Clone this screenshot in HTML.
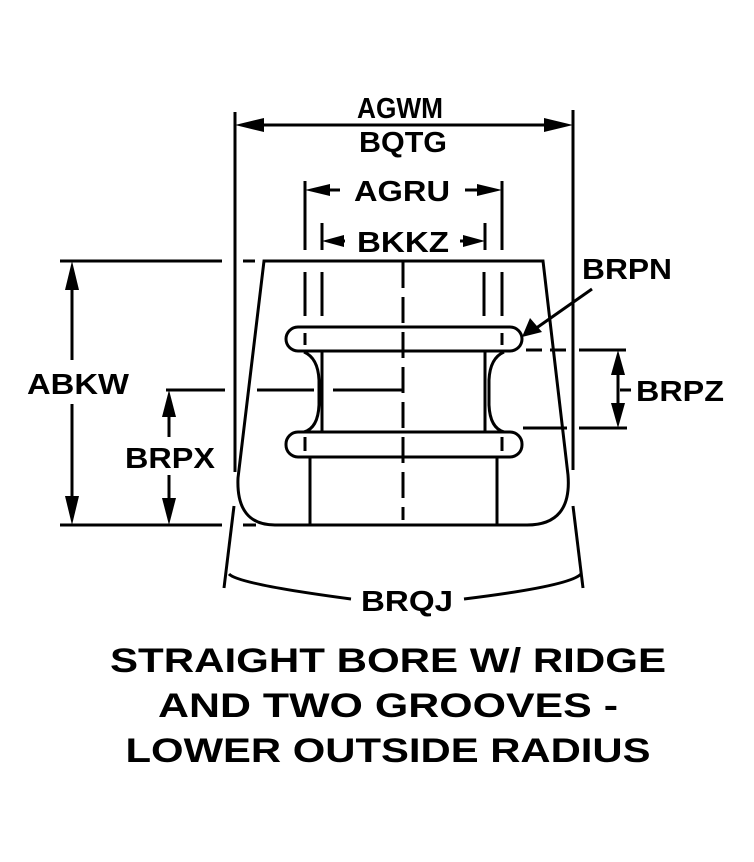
<!DOCTYPE html>
<html><head><style>
html,body{margin:0;padding:0;background:#fff;}
svg{display:block;}
text{font-family:"Liberation Sans",Arial,sans-serif;font-weight:bold;fill:#000;}
</style></head><body>
<svg width="754" height="862" viewBox="0 0 754 862" xmlns="http://www.w3.org/2000/svg">
<g stroke="#000" stroke-width="3" fill="none" stroke-linecap="butt">
<!-- body outline -->
<path d="M264,261 L543,261 L568,475 Q572,525 527,525 L275,525 Q236,525 238,478 Z"/>
<!-- ridges -->
<rect x="286" y="327" width="236" height="24" rx="12" ry="12"/>
<rect x="286" y="432" width="236" height="25" rx="12" ry="12"/>
<!-- bore walls -->
<line x1="322" y1="351" x2="322" y2="432"/>
<line x1="485" y1="351" x2="485" y2="432"/>
<path d="M304,352 Q318,358 319,380 L319,405 Q318,428 304,432"/>
<path d="M504,352 Q490,358 489,380 L489,405 Q490,428 504,432"/>
<line x1="310" y1="457" x2="310" y2="525"/>
<line x1="497" y1="457" x2="497" y2="525"/>
</g>
<g stroke="#000" stroke-width="3" fill="none">
<!-- center line -->
<line x1="403" y1="262" x2="403" y2="520" stroke-dasharray="26,9"/>
<!-- dashed hidden lines -->
<line x1="305" y1="272" x2="305" y2="316"/>
<line x1="322" y1="272" x2="322" y2="316"/>
<line x1="484" y1="272" x2="484" y2="316"/>
<line x1="502" y1="272" x2="502" y2="316"/>
<line x1="305" y1="333" x2="305" y2="345"/>
<line x1="502" y1="333" x2="502" y2="345"/>
<line x1="305" y1="437" x2="305" y2="451"/>
<line x1="502" y1="437" x2="502" y2="451"/>
<!-- horizontal center line -->
<line x1="166" y1="390" x2="225" y2="390"/>
<line x1="257" y1="390" x2="314" y2="390"/>
<line x1="333" y1="390" x2="403" y2="390"/>
<!-- AGWM -->
<line x1="235" y1="112" x2="235" y2="472"/>
<line x1="573" y1="110" x2="573" y2="470"/>
<line x1="245" y1="125" x2="563" y2="125"/>
<!-- AGRU -->
<line x1="305" y1="181" x2="305" y2="250"/>
<line x1="502" y1="181" x2="502" y2="250"/>
<line x1="315" y1="190" x2="340" y2="190"/>
<line x1="465" y1="190" x2="492" y2="190"/>
<!-- BKKZ -->
<line x1="322" y1="223" x2="322" y2="250"/>
<line x1="485" y1="223" x2="485" y2="250"/>
<line x1="332" y1="241" x2="345" y2="241"/>
<line x1="460" y1="241" x2="475" y2="241"/>
<!-- ABKW -->
<line x1="60" y1="261" x2="222" y2="261"/>
<line x1="243" y1="261" x2="255" y2="261"/>
<line x1="60" y1="525" x2="222" y2="525"/>
<line x1="243" y1="525" x2="256" y2="525"/>
<line x1="72" y1="280" x2="72" y2="360"/>
<line x1="72" y1="404" x2="72" y2="506"/>
<!-- BRPX -->
<line x1="169" y1="405" x2="169" y2="437"/>
<line x1="169" y1="475" x2="169" y2="508"/>
<!-- BRPZ -->
<line x1="526" y1="350" x2="542" y2="350"/>
<line x1="550" y1="350" x2="566" y2="350"/>
<line x1="579" y1="350" x2="626" y2="350"/>
<line x1="523" y1="428" x2="567" y2="428"/>
<line x1="579" y1="428" x2="627" y2="428"/>
<line x1="618" y1="365" x2="618" y2="413"/>
<line x1="620" y1="390" x2="631" y2="390"/>
<!-- BRPN leader -->
<line x1="592" y1="289" x2="535" y2="329"/>
<!-- BRQJ -->
<line x1="234" y1="506" x2="224" y2="588"/>
<line x1="573" y1="506" x2="583" y2="588"/>
<path d="M229,574 Q238,584 351,599"/>
<path d="M464,599 Q570,586 581,574"/>
</g>
<g fill="#000" stroke="none">
<polygon points="235,125 264,118 264,132"/>
<polygon points="573,125 544,118 544,132"/>
<polygon points="305,190 330,184 330,196"/>
<polygon points="502,190 477,184 477,196"/>
<polygon points="322,241 344,235 344,247"/>
<polygon points="485,241 463,235 463,247"/>
<polygon points="72,261 65,290 79,290"/>
<polygon points="72,525 65,496 79,496"/>
<polygon points="169,390 162,417 176,417"/>
<polygon points="169,525 162,498 176,498"/>
<polygon points="618,350 611,375 625,375"/>
<polygon points="618,428 611,403 625,403"/>
<polygon points="522,337 530,318 542,332"/>
</g>
<g font-size="29">
<text x="400" y="118" text-anchor="middle" textLength="86" lengthAdjust="spacingAndGlyphs">AGWM</text>
<text x="403" y="152" text-anchor="middle" textLength="88" lengthAdjust="spacingAndGlyphs">BQTG</text>
<text x="402" y="201" text-anchor="middle" textLength="96" lengthAdjust="spacingAndGlyphs">AGRU</text>
<text x="403" y="252" text-anchor="middle" textLength="92" lengthAdjust="spacingAndGlyphs">BKKZ</text>
<text x="627" y="279" text-anchor="middle" textLength="90" lengthAdjust="spacingAndGlyphs">BRPN</text>
<text x="78" y="394" text-anchor="middle" textLength="102" lengthAdjust="spacingAndGlyphs">ABKW</text>
<text x="170" y="468" text-anchor="middle" textLength="90" lengthAdjust="spacingAndGlyphs">BRPX</text>
<text x="680" y="401" text-anchor="middle" textLength="88" lengthAdjust="spacingAndGlyphs">BRPZ</text>
<text x="407" y="611" text-anchor="middle" textLength="92" lengthAdjust="spacingAndGlyphs">BRQJ</text>
</g>
<g font-size="34">
<text x="388" y="672" text-anchor="middle" textLength="556" lengthAdjust="spacingAndGlyphs">STRAIGHT BORE W/ RIDGE</text>
<text x="388" y="717" text-anchor="middle" textLength="460" lengthAdjust="spacingAndGlyphs">AND TWO GROOVES -</text>
<text x="388" y="762" text-anchor="middle" textLength="525" lengthAdjust="spacingAndGlyphs">LOWER OUTSIDE RADIUS</text>
</g>
</svg>
</body></html>
